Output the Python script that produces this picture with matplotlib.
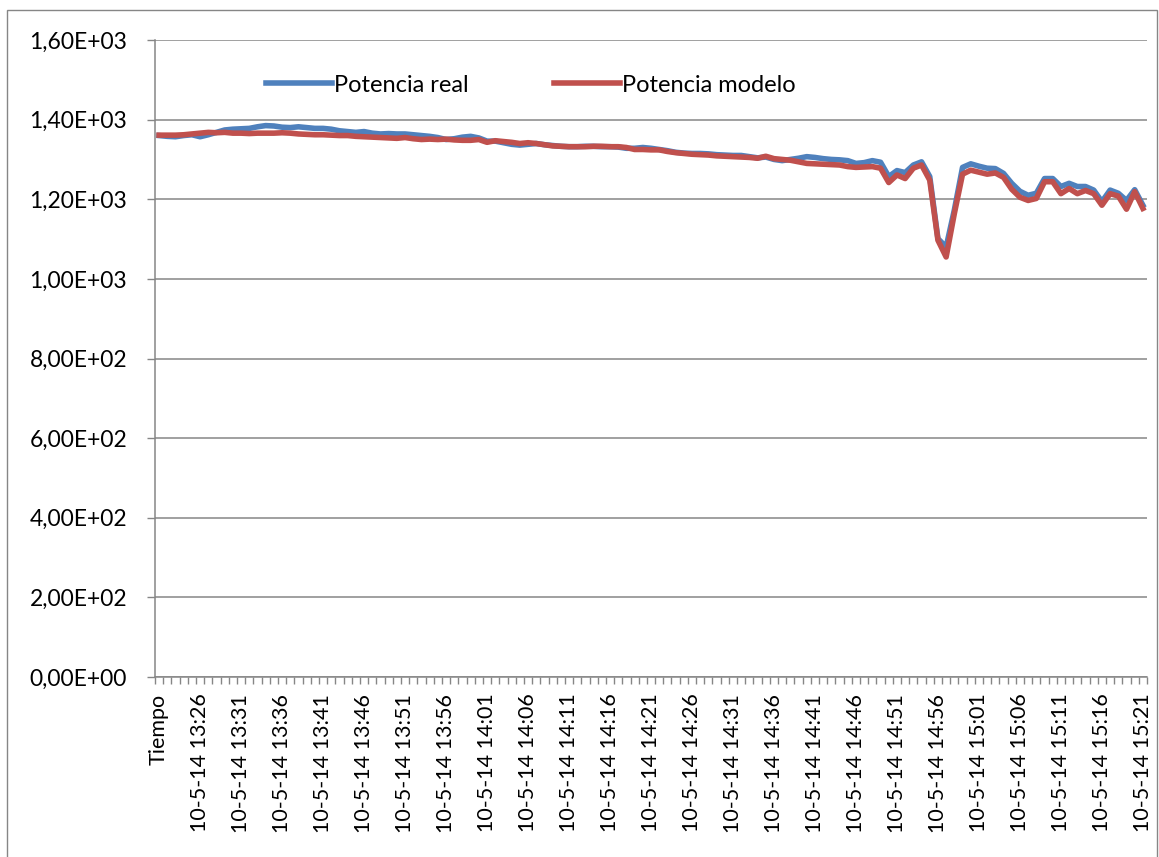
import matplotlib.pyplot as plt
from matplotlib.patches import Rectangle

plt.rcParams['font.family'] = ['Lato', 'DejaVu Sans']

# categorias del eje x: cabecera + un registro por minuto (13:22 - 15:21)
tiempos = ["Tiempo"] + ["10-5-14 %d:%02d" % divmod(13 * 60 + 22 + k, 60) for k in range(120)]

potencia_real = [
    1360, 1358, 1357, 1360, 1362, 1357, 1362, 1368, 1374, 1376,
    1377, 1378, 1382, 1385, 1384, 1381, 1380, 1382, 1380, 1378,
    1378, 1376, 1372, 1370, 1368, 1370, 1366, 1364, 1365, 1364,
    1364, 1362, 1360, 1358, 1355, 1350, 1352, 1356, 1358, 1354,
    1346, 1346, 1342, 1338, 1336, 1338, 1340, 1337, 1335, 1333,
    1332, 1332, 1333, 1333, 1332, 1332, 1331, 1328, 1328, 1330,
    1328, 1325, 1322, 1318, 1316, 1315, 1315, 1314, 1312, 1311,
    1310, 1310, 1307, 1304, 1306, 1300, 1297, 1300, 1303, 1307,
    1305, 1302, 1300, 1299, 1297, 1290, 1292, 1297, 1293, 1257,
    1272, 1267, 1286, 1294, 1257, 1101, 1080, 1173, 1280, 1289,
    1283, 1278, 1277, 1265, 1240, 1220, 1210, 1215, 1252, 1252,
    1232, 1240, 1232, 1232, 1223, 1194, 1223, 1215, 1197, 1224,
    1185,
]

potencia_modelo = [
    1361, 1361, 1361, 1362, 1364, 1366, 1368, 1367, 1368, 1366,
    1366, 1365, 1366, 1366, 1366, 1367, 1366, 1364, 1363, 1362,
    1362, 1361, 1360, 1360, 1358, 1357, 1356, 1355, 1354, 1353,
    1355, 1352, 1350, 1351, 1350, 1351, 1349, 1348, 1348, 1350,
    1343, 1347, 1345, 1343, 1340, 1342, 1340, 1337, 1334, 1333,
    1332, 1332, 1332, 1333, 1333, 1332, 1332, 1330, 1325, 1325,
    1324, 1324, 1320, 1317, 1315, 1313, 1312, 1311, 1309, 1308,
    1307, 1306, 1305, 1303, 1308, 1302, 1300, 1298, 1294, 1290,
    1289, 1288, 1287, 1286, 1282, 1280, 1281, 1282, 1278, 1242,
    1261, 1252, 1278, 1286, 1248, 1097, 1055, 1164, 1263, 1273,
    1268, 1263, 1266, 1255, 1225, 1205, 1197, 1202, 1244, 1244,
    1214, 1227, 1214, 1222, 1214, 1185, 1214, 1208, 1175, 1219,
    1177,
]

yticks = [0, 200, 400, 600, 800, 1000, 1200, 1400, 1600]
ylabels = [("%.2E" % v).replace(".", ",") for v in yticks]

fig = plt.figure(figsize=(11.59, 8.57), dpi=100)
fig.patches.append(Rectangle((7 / 1159, -0.01), 1150 / 1159, 1 - 10 / 857 + 0.01,
                             transform=fig.transFigure, fill=False,
                             edgecolor="#868686", linewidth=1))
ax = fig.add_axes([155 / 1159, 180 / 857, 992 / 1159, 637 / 857])

x = list(range(len(tiempos)))
ax.plot(x, potencia_real, color="#4F81BD", linewidth=4.0, label="Potencia real",
        solid_joinstyle="round", zorder=3)
ax.plot(x, potencia_modelo, color="#C0504D", linewidth=4.0, label="Potencia modelo",
        solid_joinstyle="round", zorder=4)

ax.set_xlim(-0.5, len(tiempos) - 0.5)
ax.set_ylim(0, 1600)
ax.set_yticks(yticks)
ax.set_yticklabels(ylabels)
ax.grid(axis="y", color="#868686", linewidth=1.1)
ax.set_axisbelow(True)

# etiquetas cada 5 categorias, marcas en los limites de cada categoria
ax.set_xticks(x[::5])
ax.set_xticklabels(tiempos[::5], rotation=90, ha="center", va="top")
ax.set_xticks([k - 0.5 for k in range(len(tiempos) + 1)], minor=True)
ax.tick_params(axis="x", which="major", length=0, pad=12, labelsize=15.5)
ax.tick_params(axis="x", which="minor", length=5, color="#868686", width=1)
ax.tick_params(axis="y", length=6, color="#868686", width=1, pad=14, labelsize=16.5)

for s in ["top", "right"]:
    ax.spines[s].set_visible(False)
for s in ["left", "bottom"]:
    ax.spines[s].set_color("#868686")
    ax.spines[s].set_linewidth(1.1)

ax.legend(loc="center", bbox_to_anchor=(0.379, 0.929), ncol=2, frameon=False,
          fontsize=17, handlelength=2.8, handletextpad=0.1, columnspacing=3.6)

fig.savefig("out.png", dpi=100)
